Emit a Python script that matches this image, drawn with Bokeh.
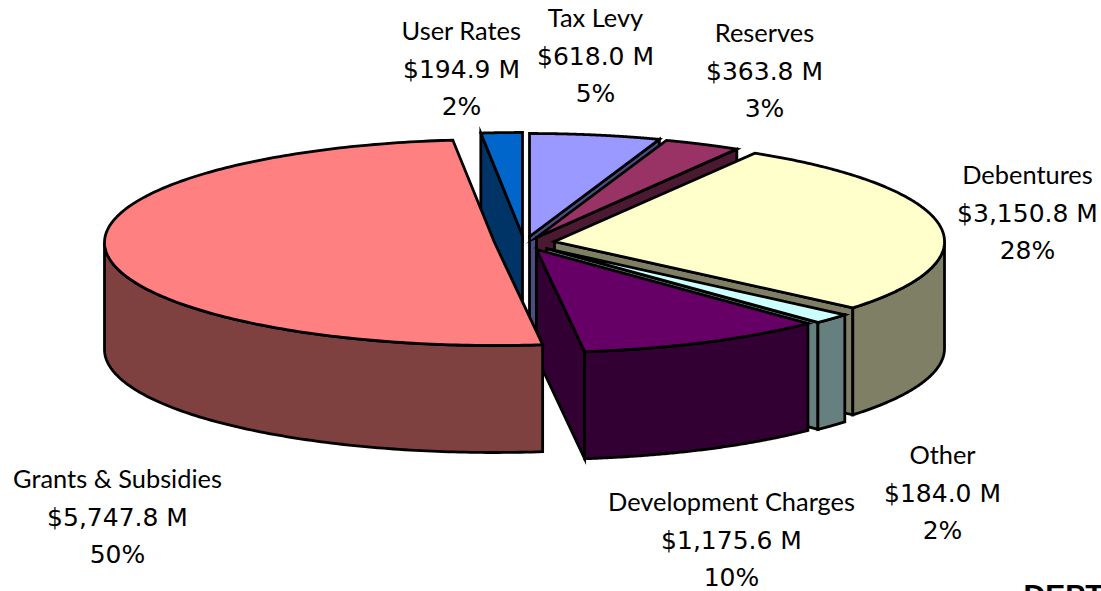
import numpy as np
from bokeh.plotting import figure
from bokeh.embed import file_html
from bokeh.resources import INLINE
from bokeh.core.properties import value

categories = ["Tax Levy", "Reserves", "Debentures", "Other", "Development Charges", "Grants & Subsidies", "User Rates"]
amounts = [618.0, 363.8, 3150.8, 184.0, 1175.6, 5747.8, 194.9]
top_colors = ["#9999FF", "#993366", "#FFFFCC", "#CCFFFF", "#660066", "#FF8080", "#0066CC"]
side_colors = ["#4C4C7F", "#4C1933", "#7F7F66", "#667F7F", "#330033", "#7F4040", "#003366"]

# pie projection parameters (pixels of the page picture)
RX, RY, DEPTH = 390, 103, 107
CENTER_X, CENTER_Y = 530, 241
# explosion of every slice, in pixels
explode_dx = [-1, 6, 24, 16, 6, -36, -8]
explode_dy = [-5, -4, 0, 7, 8, 1, -6]
draw_order = [0, 1, 6, 2, 3, 4, 5]
# label centres
label_x = [595, 764, 1027, 942, 731, 117, 461]
label_y = [18, 33, 175, 455, 502, 479, 31]
LINE_H = 37.7

W, H = 1101, 591
p = figure(width=W, height=H, x_range=(0, W), y_range=(H, 0), output_backend="svg",
           toolbar_location=None, min_border=0, outline_line_color=None)
p.axis.visible = False
p.grid.visible = False

total = sum(amounts)
ends = np.cumsum(amounts) / total * 360.0
starts = np.concatenate([[0.0], ends[:-1]])


def rim(ax, ay, deg):
    r = np.radians(deg)
    return ax + RX * np.sin(r), ay - RY * np.cos(r)


def draw(xs, ys, color):
    p.patch(list(xs), list(ys), fill_color=color, line_color="black", line_width=2.8, line_join="miter")


for i in draw_order:
    a, b = starts[i], ends[i]
    ax, ay = CENTER_X + explode_dx[i], CENTER_Y + explode_dy[i]
    mx, my = rim(ax, ay, (a + b) / 2)
    # cut faces: only those turned toward the viewer
    for t in (a, b):
        rx, ry = rim(ax, ay, t)
        cross_down = rx - ax
        cross_mid = (rx - ax) * (my - ay) - (ry - ay) * (mx - ax)
        if cross_down * cross_mid < 0:
            draw([ax, rx, rx, ax], [ay, ry, ry + DEPTH, ay + DEPTH], side_colors[i])
    # outer wall
    lo, hi = max(a, 90.0), min(b, 270.0)
    if hi > lo:
        ts = np.linspace(lo, hi, 120)
        xs, ys = rim(ax, ay, ts)
        draw(np.r_[xs, xs[::-1]], np.r_[ys, ys[::-1] + DEPTH], side_colors[i])
    # top face
    ts = np.linspace(a, b, 200)
    xs, ys = rim(ax, ay, ts)
    draw(np.r_[ax, xs], np.r_[ay, ys], top_colors[i])

name_x, name_y, name_t, num_x, num_y, num_t = [], [], [], [], [], []
for i, name in enumerate(categories):
    name_x.append(label_x[i])
    name_y.append(label_y[i] - 2)
    name_t.append(name)
    for k, s in enumerate([f"${amounts[i]:,.1f} M", f"{amounts[i] / total * 100:.0f}%"]):
        num_x.append(label_x[i])
        num_y.append(label_y[i] + (k + 1) * LINE_H)
        num_t.append(s)
p.text(name_x, name_y, text=name_t, text_font=value("Lato"), text_font_size="25.4px", text_color="black",
       text_align="center", text_baseline="middle")
p.text(num_x, num_y, text=num_t, text_font=value("DejaVu Sans"), text_font_size="25px", text_color="black",
       text_align="center", text_baseline="middle")
p.text([1023], [577], text=["DEPT"], text_font=value("Liberation Sans"), text_font_style="bold",
       text_font_size="30px", text_color="black", text_align="left", text_baseline="top")

open("out.html", "w").write(file_html(p, INLINE))
